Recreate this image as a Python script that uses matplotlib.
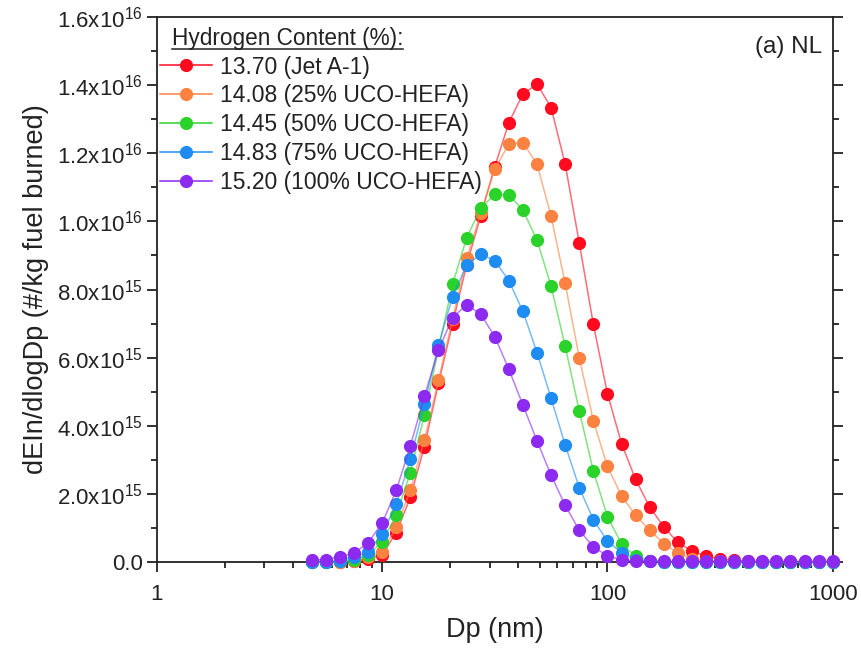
import matplotlib
matplotlib.use("Agg")
import matplotlib.pyplot as plt
from matplotlib.lines import Line2D
from matplotlib.ticker import FixedLocator, FuncFormatter, LogLocator, NullFormatter

plt.rcParams["font.family"] = ["Liberation Sans", "DejaVu Sans"]
plt.rcParams["mathtext.fontset"] = "custom"
plt.rcParams["mathtext.rm"] = "Liberation Sans"
plt.rcParams["mathtext.it"] = "Liberation Sans:italic"

# mobility diameter channels (nm)
dp = [4.87, 5.62, 6.49, 7.50, 8.66, 10.0, 11.55, 13.34, 15.40, 17.78,
      20.54, 23.71, 27.38, 31.62, 36.52, 42.17, 48.70, 56.23, 64.94, 74.99,
      86.60, 100.0, 115.5, 133.4, 154.0, 177.8, 205.4, 237.1, 273.8, 316.2,
      365.2, 421.7, 487.0, 562.3, 649.4, 749.9, 866.0, 1000.0]

# dEIn/dlogDp in units of 1e15 #/kg fuel
jet_a1 = [0.0, 0.0, 0.01, 0.03, 0.10, 0.22, 0.87, 1.90, 3.39, 5.25,
          7.00, 8.72, 10.16, 11.61, 12.90, 13.74, 14.03, 13.34, 11.68, 9.37,
          6.98, 4.95, 3.48, 2.43, 1.62, 1.04, 0.58, 0.33, 0.18, 0.09,
          0.06, 0.03, 0.02, 0.01, 0.01, 0.0, 0.0, 0.0]
hefa25 = [0.0, 0.0, 0.01, 0.04, 0.15, 0.31, 1.02, 2.11, 3.60, 5.34,
          7.13, 8.92, 10.25, 11.53, 12.27, 12.31, 11.68, 10.15, 8.18, 6.00,
          4.15, 2.81, 1.95, 1.38, 0.94, 0.55, 0.27, 0.11, 0.05, 0.03,
          0.02, 0.01, 0.01, 0.0, 0.0, 0.0, 0.0, 0.0]
hefa50 = [0.0, 0.01, 0.03, 0.08, 0.21, 0.60, 1.38, 2.63, 4.32, 6.25,
          8.15, 9.52, 10.38, 10.80, 10.78, 10.33, 9.45, 8.10, 6.34, 4.44,
          2.68, 1.34, 0.54, 0.18, 0.05, 0.02, 0.01, 0.0, 0.0, 0.0,
          0.0, 0.0, 0.0, 0.0, 0.0, 0.0, 0.0, 0.0]
hefa75 = [0.0, 0.02, 0.05, 0.16, 0.30, 0.84, 1.70, 3.02, 4.64, 6.37,
          7.79, 8.72, 9.04, 8.85, 8.26, 7.36, 6.15, 4.81, 3.44, 2.19,
          1.25, 0.62, 0.28, 0.08, 0.03, 0.01, 0.0, 0.0, 0.0, 0.0,
          0.0, 0.0, 0.0, 0.0, 0.0, 0.0, 0.0, 0.0]
hefa100 = [0.06, 0.08, 0.16, 0.27, 0.57, 1.15, 2.11, 3.41, 4.87, 6.22,
           7.18, 7.55, 7.28, 6.62, 5.66, 4.61, 3.56, 2.55, 1.67, 0.94,
           0.45, 0.19, 0.07, 0.03, 0.03, 0.03, 0.03, 0.03, 0.03, 0.03,
           0.03, 0.03, 0.03, 0.03, 0.03, 0.03, 0.03, 0.03]

labels = ["13.70 (Jet A-1)", "14.08 (25% UCO-HEFA)", "14.45 (50% UCO-HEFA)",
          "14.83 (75% UCO-HEFA)", "15.20 (100% UCO-HEFA)"]
colors = ["#ff0a1e", "#fb8240", "#2ad22a", "#1f8cf2", "#8c2af0"]
series = [jet_a1, hefa25, hefa50, hefa75, hefa100]
txt = "#222222"

fig = plt.figure(figsize=(8.62, 6.5), dpi=100)
ax = fig.add_axes([0.182, 0.135, 0.784, 0.839])

handles = []
for i, (vals, c) in enumerate(zip(series, colors)):
    y = [v * 1e15 for v in vals]
    ax.plot(dp, y, color=c, lw=1.1, alpha=0.6, zorder=2 + 2 * i, clip_on=False)
    ax.plot(dp, y, ls="none", marker="o", ms=9.5, mfc=c, mec=c, mew=0,
            zorder=3 + 2 * i, clip_on=False)
    handles.append(Line2D([], [], color=c, lw=1.1, marker="o", ms=9.5, mew=0,
                          mfc=c))

ax.set_xscale("log")
ax.set_xlim(1, 1000)
ax.set_ylim(0, 1.6e16)

ax.xaxis.set_major_locator(FixedLocator([1, 10, 100, 1000]))
ax.xaxis.set_major_formatter(FuncFormatter(lambda v, p: "%g" % v))
ax.xaxis.set_minor_locator(LogLocator(base=10, subs=range(2, 10)))
ax.xaxis.set_minor_formatter(NullFormatter())

yt = [i * 2e15 for i in range(9)]


def yfmt(v, pos):
    if v == 0:
        return "0.0"
    e = 15 if v < 1e16 - 1 else 16
    return r"%.1fx10$^{%d}$" % (v / 10 ** e, e)


ax.yaxis.set_major_locator(FixedLocator(yt))
ax.yaxis.set_major_formatter(FuncFormatter(yfmt))
ax.yaxis.set_minor_locator(FixedLocator([i * 1e15 for i in range(17)]))

ax.tick_params(which="both", direction="out", right=True, top=False,
               labelright=False, colors=txt, labelsize=16, width=1.3)
ax.tick_params(which="major", length=7)
ax.tick_params(which="minor", length=4.3)
ax.tick_params(axis="x", pad=8.5)
ax.tick_params(axis="y", pad=3)
for s in ax.spines.values():
    s.set_linewidth(1.3)
    s.set_color(txt)

ax.set_xlabel("Dp (nm)", fontsize=19.5, color=txt, labelpad=9)
ax.set_ylabel("dEIn/dlogDp (#/kg fuel burned)", fontsize=19.5, color=txt,
              labelpad=6)

leg = ax.legend(handles, labels, loc="upper left", bbox_to_anchor=(-0.009, 0.946),
                frameon=False, fontsize=16.5, handlelength=2.27, handletextpad=0.35,
                labelspacing=0.26, borderaxespad=0.0)
for t in leg.get_texts():
    t.set_color(txt)

title = ax.text(0.022, 0.961, "Hydrogen Content (%):", transform=ax.transAxes,
                ha="left", va="center", fontsize=16.3, color=txt)

ax.text(0.985, 0.945, "(a) NL", transform=ax.transAxes, ha="right", va="center",
        fontsize=17.5, color=txt)

# underline the legend title
fig.canvas.draw()
bb = title.get_window_extent().transformed(fig.transFigure.inverted())
fig.add_artist(Line2D([bb.x0, bb.x1], [bb.y0 + 0.001, bb.y0 + 0.001],
                      transform=fig.transFigure, color=txt, lw=1.1))

fig.savefig("out.png", dpi=100)
